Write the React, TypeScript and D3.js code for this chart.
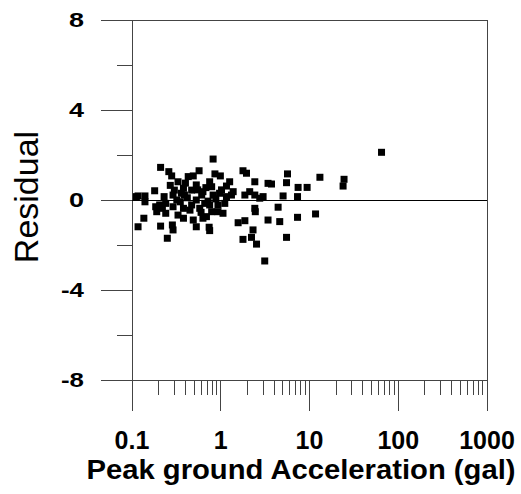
import React from "react";
import * as d3 from "d3";

const accel: number[] = [
  0.82, 0.21, 0.26, 0.28, 0.33, 0.43, 0.57, 0.49, 0.86, 0.99,
  1.78, 1.95, 2.42, 1.26, 1.16, 1.38, 0.75, 0.79, 0.63, 0.53,
  0.47, 0.38, 0.39, 0.30, 0.29, 0.23, 0.18, 0.14, 0.117, 0.14,
  0.185, 0.19, 0.22, 0.24, 0.29, 0.35, 0.38, 0.33, 0.38, 0.47,
  0.53, 0.58, 0.66, 0.75, 0.79, 0.93, 0.93, 1.06, 1.11, 0.63,
  0.69, 0.53, 0.74, 0.75, 0.49, 0.21, 0.285, 0.29, 0.25, 0.136,
  0.117, 1.87, 2.12, 2.42, 2.75, 2.42, 2.45, 1.57, 1.87, 1.78,
  2.31, 2.22, 2.53, 3.13, 3.41, 0.97, 0.82, 0.61, 1.32, 1.16,
  0.32, 0.24, 0.205, 3.73, 5.65, 5.51, 7.44, 9.40, 13.1, 24.5,
  23.9, 5.04, 7.33, 3.0, 4.43, 3.41, 4.62, 7.33, 11.7, 5.51,
  64.8, 0.112, 0.42, 0.45, 0.55, 0.68, 0.72, 0.88, 0.6, 0.4,
  0.27, 1.02, 0.36,
];
const residual: number[] = [
  1.82, 1.45, 1.26, 1.07, 0.81, 1.04, 1.30, 1.07, 1.16, 1.07,
  1.30, 1.19, 0.81, 0.81, 0.62, 0.37, 0.81, 0.59, 0.37, 0.67,
  0.44, 0.52, 0.22, 0.44, 0.22, 0.15, 0.41, 0.18, 0.18, -0.08,
  -0.30, -0.52, -0.37, -0.59, -0.30, -0.08, -0.37, -0.67, -0.81, -0.22,
  0.0, -0.37, -0.15, -0.22, -0.52, -0.22, -0.52, -0.59, -0.15, -0.81,
  -0.74, -1.19, -1.21, -1.36, -0.89, -1.16, -1.11, -1.33, -1.70, -0.81,
  -1.19, 0.22, 0.37, 0.22, 0.08, -0.37, -0.52, -1.01, -0.92, -1.75,
  -1.33, -1.66, -1.96, -2.71, 0.74, 0.30, 0.22, 0.22, 0.22, 0.15,
  0.0, -0.15, -0.22, 0.71, 1.16, 0.77, 0.56, 0.56, 1.01, 0.92,
  0.62, 0.18, 0.15, 0.15, -0.32, -0.89, -0.96, -0.77, -0.62, -1.66,
  2.12, 0.15, 0.1, -0.45, 0.45, 0.55, -0.05, 0.05, -0.55, 0.75,
  0.65, 0.45, 0.3,
];

const yMajor: number[] = [8, 4, 0, -4, -8];
const yMinor: number[] = [6, 2, -2, -6];
const xMajor: number[] = [0.1, 1, 10, 100, 1000];
const xMajorLabels: string[] = ["0.1", "1", "10", "100", "1000"];
const yLabelText: string[] = ["8", "4", "0", "-4", "-8"];

export default function App() {
  const left = 132, right = 487, top = 20, bottom = 380;
  const x = d3.scaleLog().domain([0.1, 1000]).range([left, right]);
  const y = d3.scaleLinear().domain([-8, 8]).range([bottom, top]);
  const xMinor: number[] = [];
  for (let e = -1; e < 3; e++) {
    for (let m = 2; m <= 9; m++) xMinor.push(m * Math.pow(10, e));
  }
  const lc = "#444";
  const font = "'Liberation Sans', Arial, sans-serif";
  const sq = 7;
  return (
    <svg width={521} height={494} style={{ position: "absolute", left: 0, top: 0, background: "#fff" }}>
      {/* frame */}
      <line x1={101} x2={right} y1={top} y2={top} stroke={lc} strokeWidth={1} shapeRendering="crispEdges" />
      <line x1={101} x2={right} y1={bottom} y2={bottom} stroke={lc} strokeWidth={1} shapeRendering="crispEdges" />
      <line x1={left} x2={left} y1={top} y2={411} stroke={lc} strokeWidth={1} shapeRendering="crispEdges" />
      <line x1={right} x2={right} y1={top} y2={411} stroke={lc} strokeWidth={1} shapeRendering="crispEdges" />
      {/* zero line */}
      <line x1={left} x2={right} y1={y(0)} y2={y(0)} stroke="#000" strokeWidth={1} shapeRendering="crispEdges" />
      {/* y ticks */}
      {yMajor.map((v) => (
        <line key={"ym" + v} x1={101} x2={left} y1={y(v)} y2={y(v)} stroke={lc} shapeRendering="crispEdges" />
      ))}
      {yMinor.map((v) => (
        <line key={"yn" + v} x1={117} x2={left} y1={y(v)} y2={y(v)} stroke={lc} shapeRendering="crispEdges" />
      ))}
      {yMajor.map((v, i) => (
        <text
          key={"yl" + v}
          x={84}
          y={y(v) + 7}
          textAnchor="end"
          fontFamily={font}
          fontWeight="bold"
          fontSize={20}
          textLength={yLabelText[i].length > 1 ? 23 : 15}
          lengthAdjust="spacingAndGlyphs"
        >
          {yLabelText[i]}
        </text>
      ))}
      {/* x ticks */}
      {xMajor.map((v) => (
        <line key={"xm" + v} x1={x(v)} x2={x(v)} y1={bottom} y2={411} stroke={lc} shapeRendering="crispEdges" />
      ))}
      {xMinor.map((v) => (
        <line key={"xn" + v} x1={x(v)} x2={x(v)} y1={bottom} y2={395} stroke={lc} shapeRendering="crispEdges" />
      ))}
      {xMajor.map((v, i) => (
        <text
          key={"xl" + v}
          x={x(v)}
          y={449}
          textAnchor="middle"
          fontFamily={font}
          fontWeight="bold"
          fontSize={25}
        >
          {xMajorLabels[i]}
        </text>
      ))}
      {/* points */}
      {accel.map((a, i) => (
        <rect key={"p" + i} x={x(a) - sq / 2} y={y(residual[i]) - sq / 2} width={sq} height={sq} fill="#000" />
      ))}
      {/* titles */}
      <text
        transform={`translate(38,197) rotate(-90)`}
        textAnchor="middle"
        fontFamily={font}
        fontSize={34}
      >
        Residual
      </text>
      <text
        x={301}
        y={479}
        textAnchor="middle"
        fontFamily={font}
        fontWeight="bold"
        fontSize={27}
        textLength={429}
        lengthAdjust="spacingAndGlyphs"
      >
        Peak ground Acceleration (gal)
      </text>
    </svg>
  );
}
